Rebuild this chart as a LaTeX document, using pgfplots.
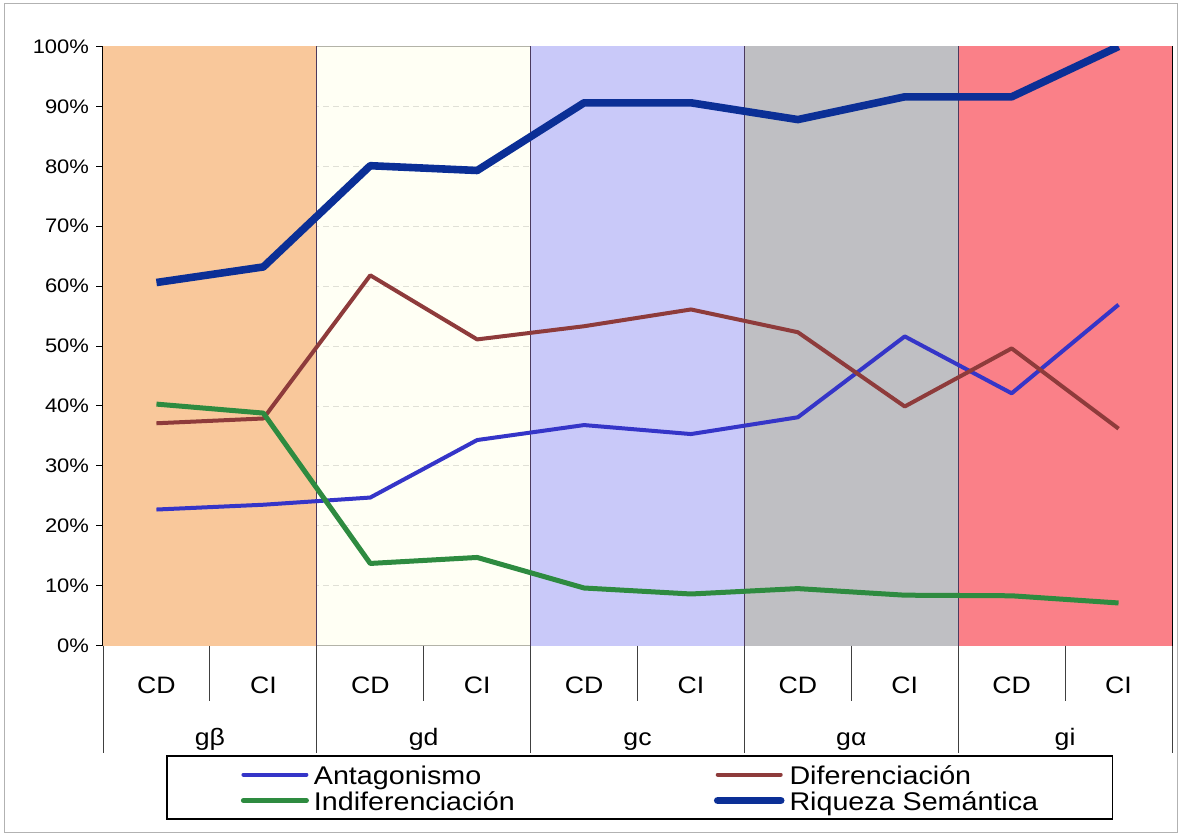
\documentclass[border=0pt]{standalone}
\usepackage{fontspec}
\setmainfont{Liberation Sans}[FakeStretch=1.12]
\usepackage{pgfplots}
\pgfplotsset{compat=1.18}
\definecolor{bandA}{HTML}{F9C89B}
\definecolor{bandB}{HTML}{FFFFF0}
\definecolor{bandC}{HTML}{C9C9F9}
\definecolor{bandD}{HTML}{BFBFC3}
\definecolor{bandE}{HTML}{FA8088}
\definecolor{cAnt}{HTML}{3535C8}
\definecolor{cDif}{HTML}{8E3B3B}
\definecolor{cInd}{HTML}{2E8B40}
\definecolor{cRiq}{HTML}{0B2F96}
\definecolor{sepc}{HTML}{4B3A5E}
\begin{document}
\begin{tikzpicture}
\useasboundingbox (0,0) rectangle (590.5pt,418pt);
\draw[gray!60, line width=0.5pt] (2pt,2pt) rectangle (588.5pt,416pt);
\begin{axis}[
  at={(51.5pt,95.25pt)}, anchor=south west,
  scale only axis, width=534.5pt, height=299.5pt,
  xmin=0, xmax=10, ymin=0, ymax=100,
  clip mode=individual,
  xtick={0.5,1.5,2.5,3.5,4.5,5.5,6.5,7.5,8.5,9.5},
  xticklabels={CD,CI,CD,CI,CD,CI,CD,CI,CD,CI},
  x tick style={draw=none},
  xticklabel style={font=\fontsize{11.9pt}{12pt}\selectfont, anchor=base, yshift=-20.5pt},
  ytick={0,10,20,30,40,50,60,70,80,90,100},
  yticklabels={0\%,10\%,20\%,30\%,40\%,50\%,60\%,70\%,80\%,90\%,100\%},
  ytick pos=left,
  tick align=outside, major tick length=3.5pt,
  y tick style={black, line width=0.5pt},
  yticklabel style={font=\fontsize{9.8pt}{10pt}\selectfont},
  ymajorgrids, grid style={densely dashed, gray!80, line width=0.4pt},
  axis line style={black, line width=0.6pt},
  legend columns=2,
  legend cell align=left,
  legend style={at={(0.5019,-0.2371)}, anchor=center, draw=black, line width=0.6pt, fill=white,
    inner xsep=37pt, inner ysep=4.5pt, row sep=3.5pt, column sep=0pt,
    /tikz/every odd column/.append style={column sep=2.5pt},
    nodes={inner sep=0pt, text height=9.5pt, text depth=0pt, font=\fontsize{12.8pt}{13pt}\selectfont}},
  legend image code/.code={\draw[#1, line cap=round] (0pt,0pt) -- (31.5pt,0pt);},
]
% background bands
\fill[bandA] (axis cs:0,0) rectangle (axis cs:2,100);
\fill[bandB, fill opacity=0.7] (axis cs:2,0) rectangle (axis cs:4,100);
\fill[bandC] (axis cs:4,0) rectangle (axis cs:6,100);
\fill[bandD] (axis cs:6,0) rectangle (axis cs:8,100);
\fill[bandE] (axis cs:8,0) rectangle (axis cs:10,100);
\pgfplotsinvokeforeach{2,4,6,8}{
  \draw[sepc, line width=0.6pt] (axis cs:#1,0) -- (axis cs:#1,100);
}
% category separators below the axis
\pgfplotsinvokeforeach{0,2,4,6,8,10}{
  \draw[black!75, line width=0.5pt] (axis cs:#1,0) -- ++(0pt,-53.5pt);
}
\pgfplotsinvokeforeach{1,3,5,7,9}{
  \draw[black!75, line width=0.5pt] (axis cs:#1,0) -- ++(0pt,-27.5pt);
}
\node[anchor=base, font=\fontsize{11.9pt}{12pt}\selectfont, inner sep=0pt] at (axis cs:1,0) [yshift=-50pt] {gβ};
\node[anchor=base, font=\fontsize{11.9pt}{12pt}\selectfont, inner sep=0pt] at (axis cs:3,0) [yshift=-50pt] {gd};
\node[anchor=base, font=\fontsize{11.9pt}{12pt}\selectfont, inner sep=0pt] at (axis cs:5,0) [yshift=-50pt] {gc};
\node[anchor=base, font=\fontsize{11.9pt}{12pt}\selectfont, inner sep=0pt] at (axis cs:7,0) [yshift=-50pt] {gα};
\node[anchor=base, font=\fontsize{11.9pt}{12pt}\selectfont, inner sep=0pt] at (axis cs:9,0) [yshift=-50pt] {gi};
\addplot[cAnt, line width=2pt, line join=round] coordinates {
 (0.5,22.7) (1.5,23.5) (2.5,24.7) (3.5,34.3) (4.5,36.8) (5.5,35.3) (6.5,38.1) (7.5,51.6) (8.5,42.1) (9.5,56.9)};
\addlegendentry[text width=200pt]{Antagonismo}
\addplot[cDif, line width=2pt, line join=round] coordinates {
 (0.5,37.1) (1.5,37.9) (2.5,61.8) (3.5,51.1) (4.5,53.3) (5.5,56.1) (6.5,52.3) (7.5,39.9) (8.5,49.6) (9.5,36.2)};
\addlegendentry{Diferenciación}
\addplot[cInd, line width=2.5pt, line join=round] coordinates {
 (0.5,40.3) (1.5,38.8) (2.5,13.7) (3.5,14.7) (4.5,9.6) (5.5,8.6) (6.5,9.5) (7.5,8.4) (8.5,8.3) (9.5,7.1)};
\addlegendentry[text width=200pt]{Indiferenciación}
\addplot[cRiq, line width=3.8pt, line join=round] coordinates {
 (0.5,60.6) (1.5,63.2) (2.5,80.1) (3.5,79.3) (4.5,90.6) (5.5,90.6) (6.5,87.8) (7.5,91.6) (8.5,91.6) (9.5,100)};
\addlegendentry{Riqueza Semántica}
\end{axis}
\end{tikzpicture}
\end{document}
